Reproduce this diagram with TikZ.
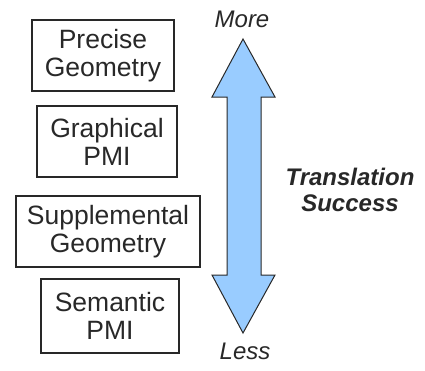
\documentclass[tikz,border=0pt]{standalone}
\usepackage{fontspec}
\setmainfont{Liberation Sans}
\usetikzlibrary{positioning}
\definecolor{arrowblue}{RGB}{153,204,255}
\definecolor{inkgray}{RGB}{40,40,40}

\tikzset{
  level/.style={draw=inkgray, line width=1.2pt, align=center, inner sep=0pt,
    text=inkgray, font=\fontsize{26.5}{28}\selectfont},
  tag/.style={text=inkgray, font=\fontsize{24}{26}\selectfont\itshape},
}

\begin{document}
\begin{tikzpicture}[x=1pt,y=-1pt]
  \useasboundingbox (0,0) rectangle (425,370);
  % the four kinds of data
  \node[level, minimum width=142pt, minimum height=71pt] (precise) at (103,55.5) {Precise\\Geometry};
  \node[level, minimum width=140pt, minimum height=71pt] (graphical) at (107,141.5) {Graphical\\PMI};
  \node[level, minimum width=184pt, minimum height=71pt] (supplemental) at (108,231.5) {Supplemental\\Geometry};
  \node[level, minimum width=138pt, minimum height=74pt] (semantic) at (110,316) {Semantic\\PMI};
  % the scale
  \draw[fill=arrowblue, draw=inkgray, line width=1pt, line join=miter]
    (243,39) -- (275,97) -- (261,97) -- (261,275) -- (275,275) -- (243,333)
    -- (212,275) -- (227,275) -- (227,97) -- (212,97) -- cycle;
  \node[tag] (more) at (242,19) {More};
  \node[tag] (less) at (245,351) {Less};
  \node[tag, font=\fontsize{24}{26}\selectfont\bfseries\itshape, align=center] (success) at (350,190) {Translation\\Success};
\end{tikzpicture}
\end{document}
